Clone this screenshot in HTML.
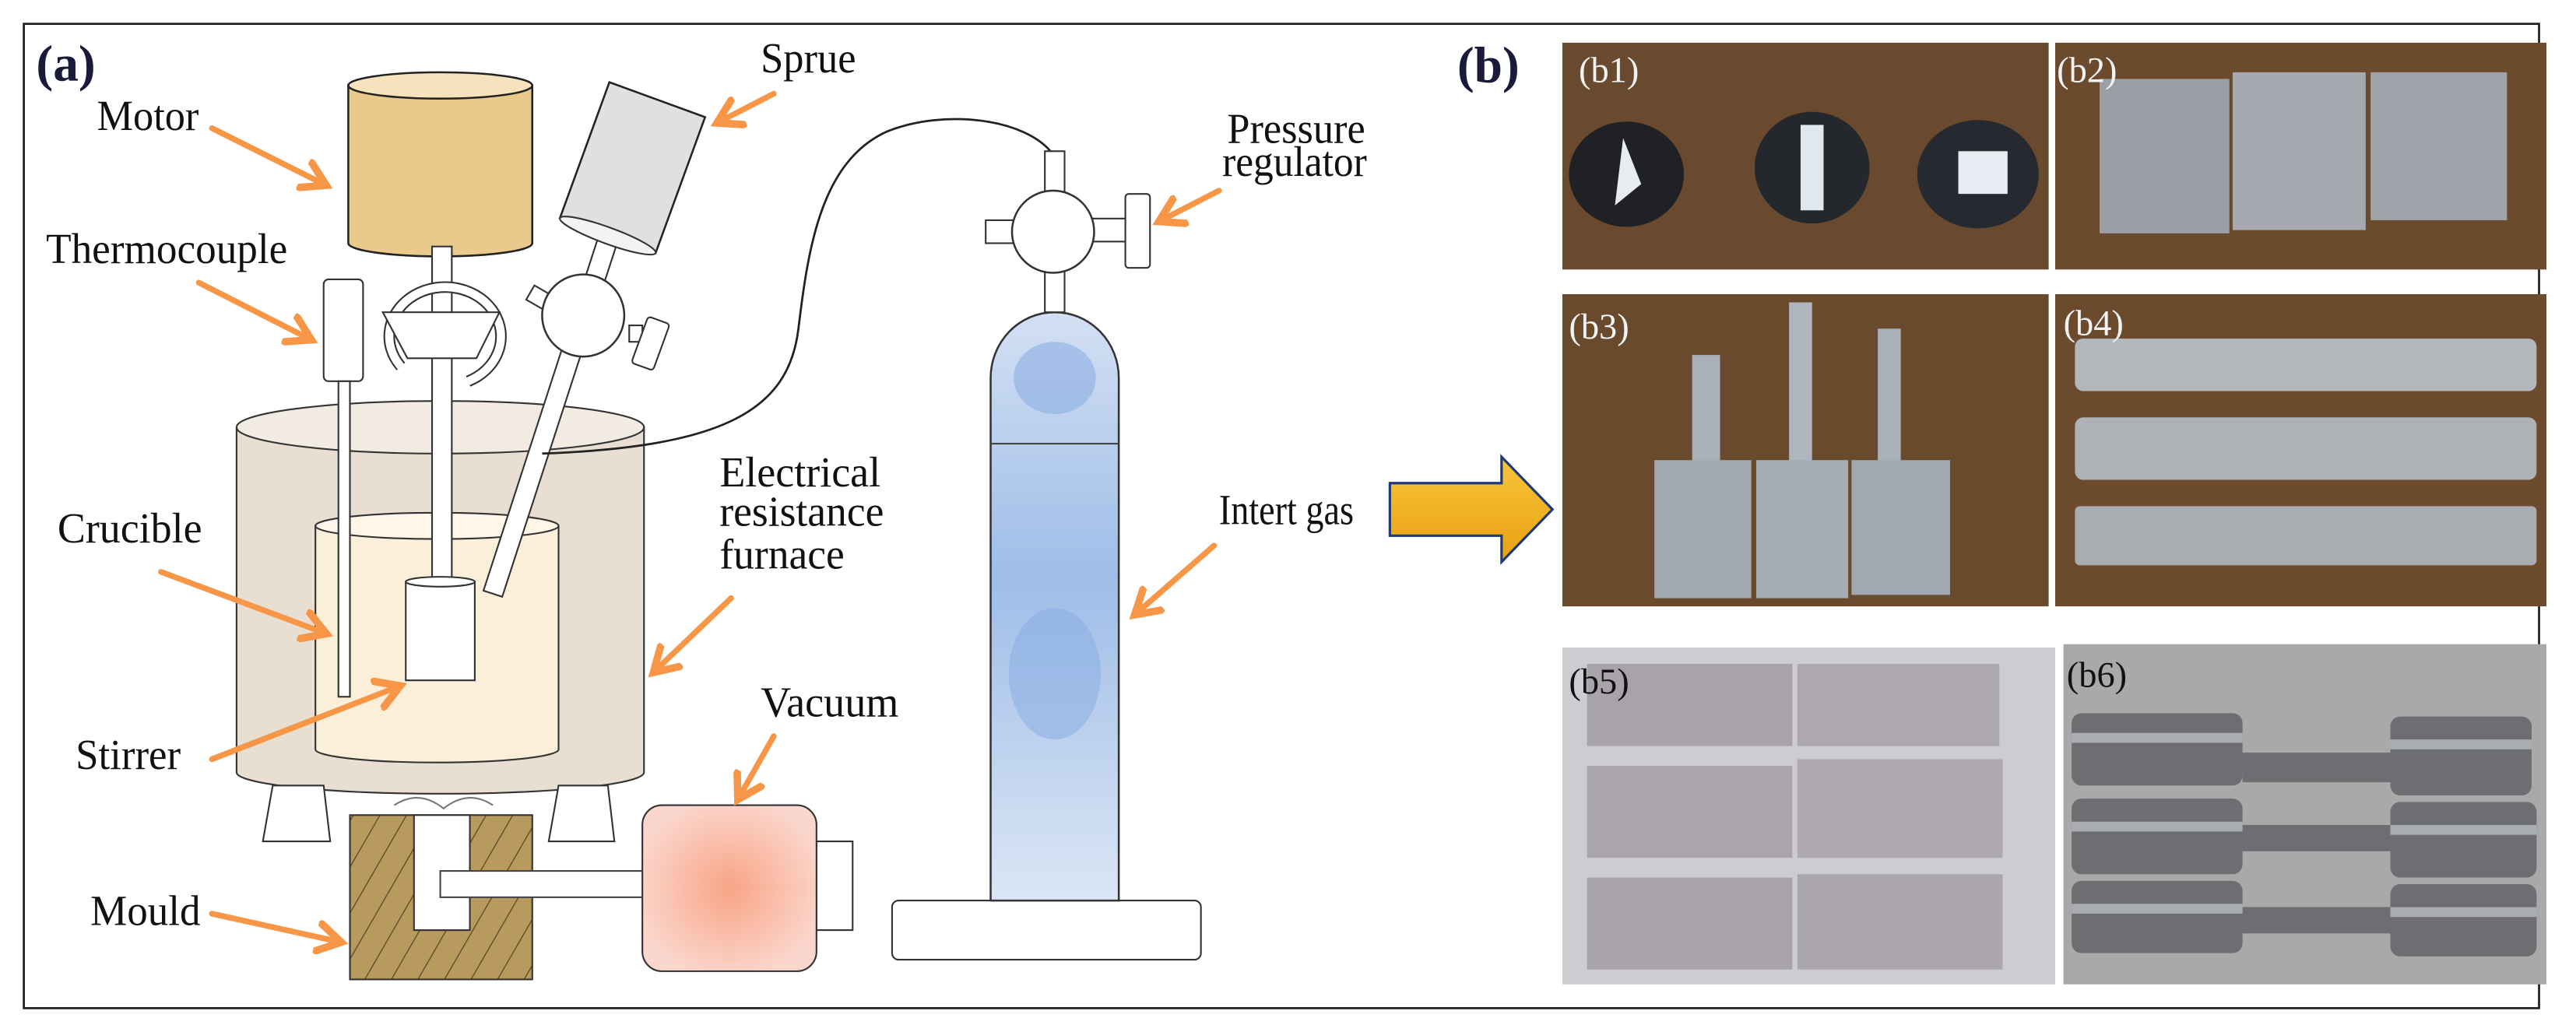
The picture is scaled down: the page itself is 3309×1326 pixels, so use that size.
<!DOCTYPE html>
<html><head><meta charset="utf-8"><style>html,body{margin:0;padding:0;background:#fff}svg{display:block}.s{font-family:"Liberation Serif","DejaVu Serif",serif}</style></head>
<body>
<svg width="3309" height="1326" viewBox="0 0 1568 628" preserveAspectRatio="none" xmlns="http://www.w3.org/2000/svg">
<defs>
<linearGradient id="bluev" x1="0" y1="0" x2="0" y2="1"><stop offset="0" stop-color="#d3e0f3"/><stop offset="0.45" stop-color="#9ebde8"/><stop offset="1" stop-color="#dbe6f5"/></linearGradient>
<radialGradient id="pink" cx="50%" cy="50%" r="55%"><stop offset="0" stop-color="#f8a486"/><stop offset="1" stop-color="#fbd6cc"/></radialGradient>
<linearGradient id="gold" x1="0" y1="0" x2="0" y2="1"><stop offset="0" stop-color="#f9c53a"/><stop offset="1" stop-color="#e8a010"/></linearGradient>
<pattern id="hatch" width="14" height="14" patternUnits="userSpaceOnUse" patternTransform="rotate(30)"><rect width="14" height="14" fill="#b99a5e"/><line x1="0" y1="0" x2="0" y2="14" stroke="#5a4322" stroke-width="1.2"/></pattern>
<marker id="ah" markerWidth="6" markerHeight="6" refX="4" refY="3" orient="auto" markerUnits="strokeWidth"><path d="M0,0.3 L4.5,3 L0,5.7" fill="none" stroke="#f79646" stroke-width="1.3"/></marker>
</defs>
<rect x="0" y="0" width="1568" height="628" fill="#fff"/>
<rect x="14.5" y="14.5" width="1531" height="599" fill="none" stroke="#222" stroke-width="1.3"/>

<text class="s" x="22" y="49" font-weight="bold" font-size="31" fill="#1a1a3a">(a)</text>

<path d="M144,260 L144,470 A124,13 0 0 0 392,470 L392,260 Z" fill="#e8dfd2" stroke="#333" stroke-width="1"/>
<ellipse cx="268" cy="260" rx="124" ry="16" fill="#f1ebe2" stroke="#333" stroke-width="1"/>
<path d="M192,320 L192,456 A74,8 0 0 0 340,456 L340,320 Z" fill="#fbefd9" stroke="#333" stroke-width="1"/>
<ellipse cx="266" cy="320" rx="74" ry="8" fill="#fff6e8" stroke="#333" stroke-width="1"/>
<path d="M166,478 L197,478 L201,512 L160,512 Z" fill="#fff" stroke="#333" stroke-width="1"/>
<path d="M340,478 L370,478 L374,512 L334,512 Z" fill="#fff" stroke="#333" stroke-width="1"/>

<path d="M212,52 L212,148 A56,8 0 0 0 324,148 L324,52 Z" fill="#e9c98c" stroke="#222" stroke-width="1.2"/>
<ellipse cx="268" cy="52" rx="56" ry="8" fill="#f6e3bd" stroke="#222" stroke-width="1.2"/>
<rect x="263" y="150" width="12" height="205" fill="#fff" stroke="#333" stroke-width="1"/>
<path d="M244,223 A34,30 0 1 1 285,232" fill="none" stroke="#333" stroke-width="7"/>
<path d="M244,223 A34,30 0 1 1 285,232" fill="none" stroke="#fff" stroke-width="5"/>
<path d="M233,190 L304,190 L290,218 L248,218 Z" fill="#fff" stroke="#333" stroke-width="1"/>
<rect x="247" y="354" width="42" height="60" fill="#fff" stroke="#333" stroke-width="1"/>
<ellipse cx="268" cy="354" rx="21" ry="3" fill="#fff" stroke="#333" stroke-width="1"/>

<rect x="197" y="170" width="24" height="62" rx="3" fill="#fff" stroke="#333" stroke-width="1"/>
<rect x="206" y="232" width="7" height="192" fill="#fff" stroke="#333" stroke-width="1"/>

<g transform="rotate(18 355 192)">
<rect x="349" y="140" width="12" height="230" fill="#fff" stroke="#333" stroke-width="1"/>
</g>
<rect x="322" y="176" width="12" height="10" transform="rotate(30 328 181)" fill="#fff" stroke="#333" stroke-width="1"/>
<rect x="383" y="198" width="8" height="10" fill="#fff" stroke="#333" stroke-width="1"/>
<rect x="389" y="194" width="14" height="30" rx="2" transform="rotate(20 396 209)" fill="#fff" stroke="#333" stroke-width="1"/>
<circle cx="355" cy="192" r="25" fill="#fff" stroke="#333" stroke-width="1.2"/>
<g transform="rotate(20 385 102)">
<rect x="354" y="58" width="62" height="88" fill="#dfe0e2" stroke="#222" stroke-width="1.2"/>
<ellipse cx="385" cy="146" rx="31" ry="5" fill="#f3f3f3" stroke="#333" stroke-width="1"/>
</g>

<path d="M641,94 C625,72 575,66 540,80 C500,98 492,150 486,200 C480,250 440,272 330,276" fill="none" stroke="#222" stroke-width="1.3"/>

<rect x="213" y="496" width="111" height="100" fill="url(#hatch)" stroke="#333" stroke-width="1"/>
<rect x="252" y="496" width="34" height="70" fill="#fff" stroke="#333" stroke-width="1"/>
<path d="M240,490 Q255,480 270,492 Q285,480 300,490" fill="none" stroke="#777" stroke-width="1"/>
<rect x="268" y="530" width="125" height="16" fill="#fff" stroke="#444" stroke-width="1"/>
<rect x="497" y="512" width="22" height="54" fill="#fff" stroke="#333" stroke-width="1"/>
<rect x="391" y="490" width="106" height="101" rx="12" fill="url(#pink)" stroke="#333" stroke-width="1"/>

<rect x="543" y="548" width="188" height="36" rx="4" fill="#fff" stroke="#333" stroke-width="1"/>
<path d="M603,548 L603,230 A39,40 0 0 1 681,230 L681,548 Z" fill="url(#bluev)" stroke="#333" stroke-width="1.2"/>
<ellipse cx="642" cy="230" rx="25" ry="22" fill="#86abe2" opacity="0.55"/>
<ellipse cx="642" cy="410" rx="28" ry="40" fill="#86abe2" opacity="0.5"/>
<line x1="603" y1="270" x2="681" y2="270" stroke="#444" stroke-width="1"/>
<rect x="636" y="92" width="12" height="28" fill="#fff" stroke="#333" stroke-width="1"/>
<rect x="636" y="160" width="12" height="30" fill="#fff" stroke="#333" stroke-width="1"/>
<rect x="600" y="134" width="20" height="14" fill="#fff" stroke="#333" stroke-width="1"/>
<rect x="664" y="133" width="22" height="14" fill="#fff" stroke="#333" stroke-width="1"/>
<rect x="685" y="118" width="15" height="45" rx="2" fill="#fff" stroke="#333" stroke-width="1"/>
<circle cx="641" cy="141" r="25" fill="#fff" stroke="#333" stroke-width="1.2"/>

<g stroke="#f79646" stroke-width="3.5" fill="none" marker-end="url(#ah)" stroke-linecap="round">
<line x1="129" y1="78" x2="197" y2="112"/>
<line x1="471" y1="57" x2="438" y2="74"/>
<line x1="742" y1="116" x2="707" y2="134"/>
<line x1="121" y1="172" x2="188" y2="206"/>
<line x1="98" y1="348" x2="197" y2="385"/>
<line x1="445" y1="364" x2="399" y2="408"/>
<line x1="739" y1="332" x2="692" y2="373"/>
<line x1="129" y1="462" x2="242" y2="418"/>
<line x1="471" y1="448" x2="450" y2="485"/>
<line x1="129" y1="556" x2="206" y2="573"/>
</g>

<g class="s" font-size="26" fill="#111">
<text x="59" y="79" textLength="62" lengthAdjust="spacingAndGlyphs">Motor</text>
<text x="463" y="44" textLength="58" lengthAdjust="spacingAndGlyphs">Sprue</text>
<text x="747" y="87" textLength="84" lengthAdjust="spacingAndGlyphs">Pressure</text>
<text x="744" y="107" textLength="88" lengthAdjust="spacingAndGlyphs">regulator</text>
<text x="28" y="160" textLength="147" lengthAdjust="spacingAndGlyphs">Thermocouple</text>
<text x="35" y="330" textLength="88" lengthAdjust="spacingAndGlyphs">Crucible</text>
<text x="438" y="296" textLength="98" lengthAdjust="spacingAndGlyphs">Electrical</text>
<text x="438" y="320" textLength="100" lengthAdjust="spacingAndGlyphs">resistance</text>
<text x="438" y="346" textLength="76" lengthAdjust="spacingAndGlyphs">furnace</text>
<text x="742" y="319" textLength="82" lengthAdjust="spacingAndGlyphs">Intert gas</text>
<text x="46" y="468" textLength="64" lengthAdjust="spacingAndGlyphs">Stirrer</text>
<text x="463" y="436" textLength="84" lengthAdjust="spacingAndGlyphs">Vacuum</text>
<text x="55" y="563" textLength="67" lengthAdjust="spacingAndGlyphs">Mould</text>
</g>

<text class="s" x="887" y="50" font-weight="bold" font-size="31" fill="#1a1a3a">(b)</text>
<path d="M846,294 L914,294 L914,278 L945,310 L914,342 L914,326 L846,326 Z" fill="url(#gold)" stroke="#1f3a7a" stroke-width="1.5"/>

<rect x="951" y="26" width="296" height="138" fill="#6a4a2e"/>
<ellipse cx="990" cy="106" rx="35" ry="32" fill="#1f2125"/>
<path d="M988,84 L999,112 L983,125 Z" fill="#e8ecef"/>
<ellipse cx="1103" cy="102" rx="35" ry="34" fill="#24272c"/>
<rect x="1096" y="76" width="14" height="52" fill="#dfe8ef"/>
<ellipse cx="1204" cy="106" rx="37" ry="33" fill="#262a30"/>
<rect x="1192" y="92" width="30" height="26" fill="#e6ecf1"/>
<rect x="1251" y="26" width="299" height="138" fill="#6b4a2e"/>
<rect x="1278" y="48" width="79" height="94" fill="#9c9fa6"/>
<rect x="1359" y="44" width="81" height="96" fill="#a6a9b0"/>
<rect x="1443" y="44" width="83" height="90" fill="#a0a3aa"/>
<rect x="951" y="179" width="296" height="190" fill="#6a4a2d"/>
<rect x="1030" y="216" width="17" height="70" fill="#aab0b8"/>
<rect x="1089" y="184" width="14" height="100" fill="#b0b6be"/>
<rect x="1143" y="200" width="14" height="86" fill="#aab0b8"/>
<rect x="1007" y="280" width="59" height="84" fill="#a2a8b0"/>
<rect x="1069" y="280" width="56" height="84" fill="#a6acb4"/>
<rect x="1127" y="280" width="60" height="82" fill="#a2a8b0"/>
<rect x="1251" y="179" width="299" height="190" fill="#6b4a2e"/>
<rect x="1263" y="206" width="281" height="32" rx="5" fill="#b3b6bb"/>
<rect x="1263" y="254" width="281" height="38" rx="5" fill="#aeb1b6"/>
<rect x="1263" y="308" width="281" height="36" rx="3" fill="#a9acb1"/>
<rect x="951" y="394" width="300" height="205" fill="#cdcdd1"/>
<rect x="966" y="404" width="125" height="50" fill="#a7a3a8"/>
<rect x="1094" y="404" width="123" height="50" fill="#ada8ad"/>
<rect x="966" y="466" width="125" height="56" fill="#aaa5aa"/>
<rect x="1094" y="462" width="125" height="60" fill="#aea9ae"/>
<rect x="966" y="534" width="125" height="56" fill="#a9a4a9"/>
<rect x="1094" y="532" width="125" height="58" fill="#aca7ac"/>
<rect x="1256" y="392" width="294" height="207" fill="#a9a9aa"/>
<g fill="#6c6e72">
<rect x="1261" y="434" width="104" height="44" rx="6"/>
<rect x="1365" y="458" width="92" height="18"/>
<rect x="1455" y="436" width="86" height="48" rx="6"/>
<rect x="1261" y="486" width="104" height="46" rx="6"/>
<rect x="1365" y="502" width="92" height="16"/>
<rect x="1455" y="488" width="89" height="46" rx="6"/>
<rect x="1261" y="536" width="104" height="44" rx="6"/>
<rect x="1365" y="552" width="92" height="16"/>
<rect x="1455" y="538" width="89" height="44" rx="6"/>
</g>
<g fill="#b9bbbf" opacity="0.8">
<rect x="1261" y="446" width="104" height="6"/><rect x="1455" y="450" width="86" height="6"/>
<rect x="1261" y="500" width="104" height="6"/><rect x="1455" y="502" width="89" height="6"/>
<rect x="1261" y="550" width="104" height="6"/><rect x="1455" y="552" width="89" height="6"/>
</g>

<g class="s" font-size="22">
<text x="961" y="50" fill="#f2f2f2">(b1)</text>
<text x="1252" y="50" fill="#f2f2f2">(b2)</text>
<text x="955" y="206" fill="#f2f2f2">(b3)</text>
<text x="1256" y="204" fill="#f2f2f2">(b4)</text>
<text x="955" y="422" fill="#111">(b5)</text>
<text x="1258" y="418" fill="#111">(b6)</text>
</g>
</svg>
</body></html>
